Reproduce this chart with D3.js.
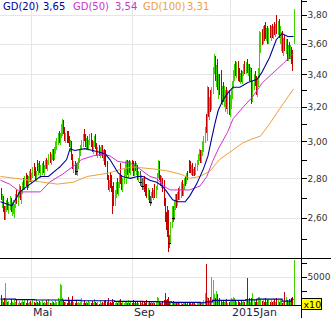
<!DOCTYPE html>
<html>
<head>
<meta charset="utf-8">
<style>
    body { margin: 0; background: #fff; }
    svg { display: block; font-family: "DejaVu Sans", Verdana, sans-serif; }
</style>
</head>
<body>
<script src="https://d3js.org/d3.v7.min.js"></script>
<div id="chart"></div>
<script>
const width = 331
const height = 318

// daily candles, oldest first (one per trading day)
const open = [
    2.74, 2.67, 2.69, 2.64, 2.61, 2.65, 2.67, 2.64, 2.66, 2.68,
    2.64, 2.63, 2.63, 2.66, 2.71, 2.69, 2.72, 2.75, 2.70, 2.73,
    2.77, 2.75, 2.80, 2.78, 2.76, 2.80, 2.82, 2.79, 2.82, 2.85,
    2.83, 2.80, 2.89, 2.85, 2.87, 2.84, 2.84, 2.87, 2.84, 2.86,
    2.89, 2.86, 2.89, 2.92, 2.89, 2.92, 2.94, 2.91, 2.96, 2.98,
    3.01, 3.03, 3.00, 3.04, 3.08, 3.10, 3.06, 3.02, 3.03, 3.05,
    3.00, 2.98, 2.99, 2.91, 2.86, 2.87, 2.84, 2.84, 2.87, 2.90,
    2.94, 2.97, 3.00, 3.05, 3.01, 2.99, 3.00, 2.97, 3.00, 3.03,
    2.98, 2.95, 2.99, 3.02, 2.97, 2.94, 2.96, 2.93, 2.95, 2.96,
    2.92, 2.94, 2.93, 2.87, 2.80, 2.75, 2.79, 2.78, 2.74, 2.76,
    2.68, 2.72, 2.77, 2.73, 2.77, 2.84, 2.78, 2.75, 2.79, 2.84,
    2.80, 2.88, 2.84, 2.87, 2.85, 2.88, 2.86, 2.83, 2.87, 2.85,
    2.86, 2.80, 2.78, 2.78, 2.76, 2.76, 2.79, 2.74, 2.76, 2.71,
    2.73, 2.68, 2.68, 2.72, 2.71, 2.75, 2.71, 2.75, 2.82, 2.88,
    2.80, 2.78, 2.79, 2.78, 2.67, 2.60, 2.60, 2.55, 2.48, 2.49,
    2.57, 2.60, 2.60, 2.68, 2.70, 2.67, 2.72, 2.71, 2.72, 2.77,
    2.73, 2.76, 2.79, 2.78, 2.82, 2.86, 2.88, 2.84, 2.86, 2.82,
    2.84, 2.83, 2.87, 2.89, 2.92, 2.94, 2.90, 2.94, 2.99, 3.02,
    3.14, 3.06, 3.30, 3.16, 3.24, 3.20, 3.30, 3.43, 3.50, 3.38,
    3.44, 3.33, 3.37, 3.38, 3.24, 3.30, 3.25, 3.22, 3.28, 3.22,
    3.28, 3.18, 3.25, 3.29, 3.34, 3.41, 3.45, 3.42, 3.46, 3.43,
    3.37, 3.40, 3.36, 3.41, 3.45, 3.42, 3.47, 3.43, 3.45, 3.38,
    3.43, 3.26, 3.34, 3.38, 3.35, 3.29, 3.35, 3.42, 3.62, 3.65,
    3.62, 3.70, 3.72, 3.65, 3.69, 3.62, 3.69, 3.67, 3.70, 3.66,
    3.71, 3.68, 3.79, 3.69, 3.74, 3.66, 3.58, 3.66, 3.56, 3.62,
    3.57, 3.61, 3.51, 3.57, 3.53, 3.56, 3.54, 3.62
]
const high = [
    2.75, 2.72, 2.71, 2.66, 2.66, 2.69, 2.70, 2.68, 2.71, 2.70,
    2.68, 2.69, 2.67, 2.72, 2.74, 2.73, 2.77, 2.76, 2.74, 2.78,
    2.80, 2.81, 2.83, 2.82, 2.81, 2.84, 2.85, 2.83, 2.86, 2.88,
    2.86, 2.84, 2.90, 2.88, 2.89, 2.87, 2.88, 2.89, 2.87, 2.90,
    2.91, 2.90, 2.93, 2.94, 2.93, 2.96, 2.96, 2.97, 3.00, 3.02,
    3.05, 3.06, 3.05, 3.10, 3.13, 3.12, 3.08, 3.05, 3.06, 3.06,
    3.03, 3.01, 3.00, 2.93, 2.89, 2.89, 2.88, 2.88, 2.91, 2.95,
    2.98, 3.01, 3.04, 3.07, 3.04, 3.02, 3.03, 3.01, 3.04, 3.05,
    3.01, 3.00, 3.03, 3.04, 2.99, 2.97, 2.98, 2.97, 2.98, 2.98,
    2.95, 2.96, 2.95, 2.89, 2.82, 2.79, 2.83, 2.82, 2.76, 2.78,
    2.74, 2.78, 2.80, 2.78, 2.82, 2.88, 2.82, 2.80, 2.85, 2.89,
    2.90, 2.90, 2.89, 2.90, 2.89, 2.90, 2.89, 2.88, 2.89, 2.88,
    2.87, 2.84, 2.84, 2.82, 2.80, 2.80, 2.81, 2.77, 2.77, 2.75,
    2.74, 2.71, 2.73, 2.75, 2.74, 2.77, 2.76, 2.83, 2.90, 2.89,
    2.82, 2.81, 2.80, 2.79, 2.70, 2.63, 2.66, 2.64, 2.52, 2.58,
    2.66, 2.66, 2.69, 2.72, 2.72, 2.73, 2.75, 2.76, 2.78, 2.79,
    2.77, 2.80, 2.81, 2.83, 2.84, 2.90, 2.89, 2.87, 2.88, 2.85,
    2.86, 2.88, 2.90, 2.93, 2.96, 2.95, 2.95, 3.00, 3.03, 3.08,
    3.16, 3.33, 3.32, 3.26, 3.30, 3.32, 3.45, 3.53, 3.52, 3.46,
    3.50, 3.40, 3.40, 3.43, 3.33, 3.35, 3.33, 3.30, 3.32, 3.30,
    3.30, 3.27, 3.31, 3.36, 3.43, 3.47, 3.49, 3.48, 3.49, 3.44,
    3.41, 3.43, 3.42, 3.47, 3.49, 3.48, 3.50, 3.47, 3.47, 3.45,
    3.44, 3.36, 3.40, 3.42, 3.39, 3.37, 3.44, 3.69, 3.68, 3.70,
    3.72, 3.73, 3.75, 3.71, 3.72, 3.71, 3.73, 3.72, 3.74, 3.72,
    3.75, 3.74, 3.80, 3.76, 3.77, 3.72, 3.68, 3.69, 3.64, 3.66,
    3.63, 3.63, 3.59, 3.61, 3.59, 3.58, 3.56, 3.84
]
const low = [
    2.69, 2.65, 2.63, 2.59, 2.59, 2.63, 2.64, 2.62, 2.64, 2.63,
    2.61, 2.62, 2.60, 2.65, 2.67, 2.66, 2.70, 2.69, 2.67, 2.72,
    2.74, 2.74, 2.76, 2.74, 2.75, 2.78, 2.78, 2.77, 2.80, 2.81,
    2.79, 2.78, 2.84, 2.82, 2.83, 2.80, 2.82, 2.83, 2.81, 2.85,
    2.85, 2.84, 2.87, 2.88, 2.87, 2.90, 2.89, 2.90, 2.93, 2.95,
    2.98, 2.99, 2.98, 3.02, 3.03, 3.04, 3.00, 2.99, 2.99, 2.99,
    2.97, 2.94, 2.90, 2.85, 2.83, 2.82, 2.82, 2.81, 2.85, 2.88,
    2.92, 2.95, 2.97, 3.00, 2.97, 2.95, 2.96, 2.95, 2.98, 2.97,
    2.94, 2.93, 2.97, 2.96, 2.92, 2.91, 2.92, 2.91, 2.92, 2.91,
    2.89, 2.87, 2.86, 2.79, 2.74, 2.73, 2.75, 2.73, 2.62, 2.66,
    2.66, 2.70, 2.72, 2.71, 2.75, 2.77, 2.74, 2.73, 2.77, 2.81,
    2.77, 2.82, 2.80, 2.83, 2.82, 2.84, 2.81, 2.81, 2.84, 2.82,
    2.79, 2.78, 2.76, 2.76, 2.74, 2.74, 2.73, 2.71, 2.70, 2.69,
    2.68, 2.66, 2.67, 2.70, 2.69, 2.70, 2.70, 2.74, 2.80, 2.79,
    2.76, 2.75, 2.73, 2.66, 2.58, 2.54, 2.51, 2.44, 2.46, 2.48,
    2.55, 2.58, 2.59, 2.64, 2.65, 2.66, 2.69, 2.69, 2.70, 2.71,
    2.71, 2.74, 2.76, 2.77, 2.79, 2.83, 2.83, 2.82, 2.81, 2.81,
    2.81, 2.82, 2.84, 2.87, 2.89, 2.88, 2.88, 2.92, 2.94, 2.99,
    3.05, 3.00, 3.14, 3.12, 3.17, 3.18, 3.28, 3.40, 3.36, 3.32,
    3.30, 3.25, 3.27, 3.22, 3.21, 3.23, 3.20, 3.17, 3.19, 3.16,
    3.15, 3.14, 3.19, 3.25, 3.31, 3.36, 3.39, 3.38, 3.36, 3.35,
    3.34, 3.35, 3.34, 3.39, 3.40, 3.40, 3.41, 3.39, 3.36, 3.35,
    3.22, 3.23, 3.30, 3.33, 3.27, 3.26, 3.32, 3.38, 3.54, 3.59,
    3.60, 3.62, 3.63, 3.62, 3.60, 3.60, 3.64, 3.62, 3.64, 3.63,
    3.66, 3.65, 3.67, 3.66, 3.64, 3.60, 3.55, 3.54, 3.52, 3.55,
    3.53, 3.49, 3.49, 3.50, 3.50, 3.47, 3.42, 3.60
]
const close = [
    2.70, 2.70, 2.64, 2.61, 2.65, 2.67, 2.65, 2.66, 2.69, 2.64,
    2.66, 2.66, 2.66, 2.71, 2.69, 2.72, 2.75, 2.70, 2.73, 2.77,
    2.75, 2.80, 2.78, 2.76, 2.80, 2.82, 2.79, 2.82, 2.85, 2.83,
    2.80, 2.83, 2.85, 2.87, 2.84, 2.86, 2.87, 2.84, 2.86, 2.89,
    2.86, 2.89, 2.92, 2.89, 2.92, 2.94, 2.91, 2.96, 2.98, 3.01,
    3.03, 3.00, 3.04, 3.08, 3.10, 3.06, 3.02, 3.03, 3.00, 3.00,
    2.98, 2.99, 2.91, 2.86, 2.87, 2.84, 2.84, 2.87, 2.90, 2.94,
    2.97, 3.00, 3.02, 3.01, 2.99, 3.00, 2.97, 3.00, 3.03, 2.98,
    2.95, 2.99, 3.02, 2.97, 2.94, 2.96, 2.93, 2.95, 2.96, 2.92,
    2.94, 2.88, 2.87, 2.80, 2.75, 2.77, 2.76, 2.74, 2.64, 2.68,
    2.72, 2.77, 2.73, 2.77, 2.80, 2.78, 2.75, 2.79, 2.84, 2.87,
    2.88, 2.84, 2.87, 2.85, 2.88, 2.86, 2.83, 2.87, 2.85, 2.86,
    2.80, 2.83, 2.78, 2.80, 2.76, 2.79, 2.74, 2.72, 2.71, 2.73,
    2.69, 2.68, 2.72, 2.71, 2.73, 2.71, 2.75, 2.82, 2.88, 2.80,
    2.78, 2.79, 2.74, 2.67, 2.60, 2.56, 2.52, 2.48, 2.48, 2.57,
    2.64, 2.60, 2.68, 2.70, 2.67, 2.72, 2.71, 2.75, 2.77, 2.73,
    2.76, 2.79, 2.78, 2.82, 2.80, 2.84, 2.84, 2.86, 2.82, 2.84,
    2.83, 2.87, 2.89, 2.92, 2.94, 2.90, 2.94, 2.99, 3.02, 3.06,
    3.06, 3.30, 3.16, 3.24, 3.20, 3.30, 3.43, 3.50, 3.38, 3.44,
    3.33, 3.37, 3.29, 3.24, 3.30, 3.25, 3.31, 3.28, 3.22, 3.28,
    3.18, 3.25, 3.29, 3.34, 3.41, 3.45, 3.42, 3.46, 3.38, 3.37,
    3.40, 3.36, 3.41, 3.45, 3.42, 3.47, 3.43, 3.45, 3.38, 3.43,
    3.26, 3.34, 3.38, 3.35, 3.29, 3.35, 3.42, 3.62, 3.65, 3.62,
    3.70, 3.64, 3.65, 3.69, 3.62, 3.69, 3.67, 3.70, 3.66, 3.71,
    3.68, 3.73, 3.69, 3.74, 3.66, 3.70, 3.66, 3.56, 3.62, 3.57,
    3.61, 3.51, 3.57, 3.53, 3.56, 3.49, 3.46, 3.82
]
// volume in units of 10 shares
const volume = [
    1700, 800, 600, 1200, 3900, 900, 500, 700, 400, 1000,
    600, 300, 800, 500, 1100, 400, 700, 300, 600, 900,
    500, 800, 300, 1000, 400, 600, 700, 300, 900, 500,
    400, 1100, 600, 300, 700, 500, 900, 400, 600, 300,
    800, 500, 1000, 400, 300, 700, 600, 400, 900, 500,
    1200, 700, 3700, 3600, 1300, 900, 500, 600, 400, 1500,
    700, 400, 800, 1600, 500, 300, 700, 400, 600, 300,
    500, 1200, 400, 800, 300, 600, 400, 900, 500, 300,
    700, 400, 1000, 500, 300, 600, 200, 800, 400, 500,
    300, 700, 900, 600, 1300, 400, 500, 300, 1100, 600,
    400, 700, 300, 500, 800, 1000, 400, 600, 300, 700,
    500, 300, 900, 400, 600, 300, 800, 400, 500, 300,
    600, 400, 700, 300, 500, 200, 600, 400, 800, 300,
    500, 300, 600, 400, 700, 300, 500, 1400, 1200, 600,
    400, 300, 700, 900, 2100, 800, 1000, 1400, 600, 500,
    300, 700, 400, 500, 300, 600, 400, 300, 500, 200,
    400, 300, 500, 200, 600, 300, 400, 200, 500, 300,
    400, 200, 300, 500, 300, 600, 400, 500, 900, 2100,
    7200, 1500, 1200, 800, 1500, 4900, 4500, 2000, 1200, 2500,
    2000, 900, 1200, 700, 600, 900, 500, 700, 1100, 400,
    600, 800, 1300, 1000, 1500, 1200, 700, 500, 900, 600,
    400, 700, 500, 900, 600, 1000, 4800, 700, 1200, 500,
    1300, 2100, 800, 600, 900, 500, 1500, 1400, 1100, 700,
    900, 600, 1300, 500, 800, 1100, 600, 900, 500, 700,
    1000, 600, 1200, 800, 500, 900, 700, 400, 600, 2300,
    1400, 800, 600, 1000, 700, 1200, 1500, 7900
]

// moving averages as [day index, value]
const gd20 = [[0, 2.68], [10, 2.66], [17, 2.73], [26, 2.77], [35, 2.81], [42, 2.81], [50, 2.85],
    [52, 2.86], [58, 2.90], [61, 2.96], [65, 2.95], [74, 2.96], [81, 2.95], [87, 2.94], [92, 2.93],
    [96, 2.90], [100, 2.86], [103, 2.83], [107, 2.81], [114, 2.80], [120, 2.81], [125, 2.81],
    [131, 2.79], [137, 2.78], [142, 2.76], [146, 2.73], [151, 2.69], [156, 2.68], [162, 2.68],
    [166, 2.71], [172, 2.77], [178, 2.85], [182, 2.92], [185, 3.01], [188, 3.10], [191, 3.18],
    [195, 3.24], [200, 3.29], [204, 3.32], [210, 3.32], [217, 3.35], [225, 3.37], [229, 3.41],
    [236, 3.51], [242, 3.63], [247, 3.67], [252, 3.65], [257, 3.65]]
const gd50 = [[0, 2.79], [8, 2.77], [17, 2.73], [26, 2.73], [35, 2.73], [43, 2.78], [54, 2.82],
    [63, 2.86], [71, 2.90], [81, 2.92], [90, 2.93], [96, 2.92], [103, 2.89], [114, 2.88],
    [122, 2.85], [131, 2.81], [137, 2.80], [143, 2.76], [149, 2.74], [159, 2.74], [166, 2.74],
    [175, 2.76], [181, 2.81], [186, 2.89], [192, 2.97], [199, 3.05], [204, 3.13], [213, 3.20],
    [221, 3.26], [230, 3.35], [239, 3.41], [248, 3.47], [257, 3.54]]
const gd100 = [[0, 2.81], [13, 2.80], [26, 2.79], [37, 2.78], [50, 2.77], [64, 2.78], [76, 2.81],
    [87, 2.82], [96, 2.83], [107, 2.85], [116, 2.86], [134, 2.85], [146, 2.84], [159, 2.82],
    [166, 2.80], [175, 2.81], [184, 2.84], [192, 2.90], [201, 2.94], [212, 2.99], [219, 3.01],
    [228, 3.03], [236, 3.10], [245, 3.19], [257, 3.31]]
const volAvg = [[0, 1050], [13, 950], [30, 880], [55, 800], [70, 750], [100, 650], [125, 600],
    [140, 550], [150, 450], [175, 400], [180, 550], [186, 800], [215, 900], [225, 1050],
    [247, 700], [255, 1000], [257, 1000]]

const monthTicks = [27, 115, 201]
const monthLabels = ["Mai", "Sep", "2015Jan"]
const priceTicks = [2.5, 2.6, 2.7, 2.8, 2.9, 3.0, 3.1, 3.2, 3.3, 3.4, 3.5, 3.6, 3.7, 3.8, 3.9]
const priceLabels = [2.6, 2.8, 3.0, 3.2, 3.4, 3.6, 3.8]
const volTicks = [2500, 5000, 7500]
const volLabels = [5000]

const upColor = "#3fd400"
const downColor = "#c40000"
const lineColors = { gd20: "#000099", gd50: "#cc33cc", gd100: "#eea038" }

const de = d3.formatLocale({ decimal: ",", thousands: ".", grouping: [3], currency: ["", " €"] })
const fmt2 = de.format(".2f")

const axisX = 301.5
const priceBottom = 258.5
const volBottom = 305

const x = d3.scaleLinear().domain([0, close.length - 1]).range([0.5, 293.5])
const y = d3.scaleLog().domain([2.6, 3.8]).range([218, 15])
const yv = d3.scaleLinear().domain([0, 5000]).range([volBottom, 276.7])
const px = i => Math.round(x(i)) + 0.5

const svg = d3.select("#chart").append("svg")
    .attr("width", width).attr("height", height)

svg.append("clipPath").attr("id", "priceClip")
    .append("rect").attr("x", 0).attr("y", 0).attr("width", 301).attr("height", priceBottom)

// grid
const grid = svg.append("g").attr("stroke", "#e6e6e6").attr("shape-rendering", "crispEdges")
grid.selectAll(".hgrid").data(priceLabels).enter().append("line")
    .attr("x1", 0).attr("x2", 301)
    .attr("y1", d => Math.round(y(d)) + 0.5).attr("y2", d => Math.round(y(d)) + 0.5)
grid.selectAll(".vgrid").data(monthTicks).enter().append("line")
    .attr("x1", d => px(d)).attr("x2", d => px(d))
    .attr("y1", 0).attr("y2", volBottom)
grid.append("line")
    .attr("x1", 0).attr("x2", 301)
    .attr("y1", Math.round(yv(5000)) + 0.5).attr("y2", Math.round(yv(5000)) + 0.5)

const isUp = i => close[i] > open[i]
const colorOf = i => close[i] === open[i] ? "#000" : (isUp(i) ? upColor : downColor)
const days = d3.range(close.length)

// candles
const candles = svg.append("g").attr("clip-path", "url(#priceClip)")
    .attr("shape-rendering", "crispEdges")
candles.selectAll("line.wick").data(days).enter().append("line")
    .attr("class", "wick")
    .attr("x1", px).attr("x2", px)
    .attr("y1", i => y(high[i])).attr("y2", i => y(low[i]))
    .attr("stroke", i => close[i] === open[i] ? "#555" : colorOf(i))
    .attr("stroke-width", 1)
candles.selectAll("line.doji").data(days.filter(i => close[i] === open[i])).enter().append("line")
    .attr("class", "doji")
    .attr("x1", i => px(i) - 1.5).attr("x2", i => px(i) + 1.5)
    .attr("y1", i => Math.round(y(close[i])) + 0.5).attr("y2", i => Math.round(y(close[i])) + 0.5)
    .attr("stroke", "#000")

// moving averages
const maLine = d3.line().x(d => x(d[0])).y(d => y(d[1]))
const maGroup = svg.append("g").attr("clip-path", "url(#priceClip)").attr("fill", "none")
maGroup.append("path").attr("d", maLine(gd100)).attr("stroke", lineColors.gd100).attr("stroke-width", 1)
maGroup.append("path").attr("d", maLine(gd50)).attr("stroke", lineColors.gd50).attr("stroke-width", 1)
maGroup.append("path").attr("d", maLine(gd20)).attr("stroke", lineColors.gd20).attr("stroke-width", 1.1)

// volume
svg.append("g").attr("shape-rendering", "crispEdges")
    .selectAll("line").data(days).enter().append("line")
    .attr("x1", px).attr("x2", px)
    .attr("y1", volBottom).attr("y2", i => Math.max(priceBottom, yv(volume[i])))
    .attr("stroke", i => isUp(i) ? upColor : downColor)

svg.append("path")
    .attr("d", d3.line().x(d => x(d[0])).y(d => yv(d[1])).curve(d3.curveStepAfter)(volAvg))
    .attr("fill", "none").attr("stroke", "#000099").attr("stroke-width", 1.2)

// frame lines
const frame = svg.append("g").attr("stroke", "#000").attr("shape-rendering", "crispEdges")
frame.append("line").attr("x1", 0).attr("x2", width).attr("y1", priceBottom).attr("y2", priceBottom)
frame.append("line").attr("x1", 0).attr("x2", axisX).attr("y1", volBottom + 0.5).attr("y2", volBottom + 0.5)
frame.append("line").attr("x1", axisX).attr("x2", axisX).attr("y1", 0).attr("y2", height)

// right price axis
const priceAxis = svg.append("g")
priceAxis.selectAll("line").data(priceTicks.filter(d => y(d) > 0 && y(d) < priceBottom)).enter().append("line")
    .attr("x1", axisX).attr("x2", axisX + 5)
    .attr("y1", d => Math.round(y(d)) + 0.5).attr("y2", d => Math.round(y(d)) + 0.5)
    .attr("stroke", "#000").attr("shape-rendering", "crispEdges")
priceAxis.selectAll("text").data(priceLabels).enter().append("text")
    .attr("x", 307.5).attr("y", d => y(d)).attr("dy", "0.35em")
    .attr("font-size", 9).attr("fill", "#333")
    .text(d => fmt2(d))

// right volume axis
const volAxis = svg.append("g")
volAxis.selectAll("line").data(volTicks).enter().append("line")
    .attr("x1", axisX).attr("x2", axisX + 5)
    .attr("y1", d => Math.round(yv(d)) + 0.5).attr("y2", d => Math.round(yv(d)) + 0.5)
    .attr("stroke", "#000").attr("shape-rendering", "crispEdges")
volAxis.selectAll("text").data(volLabels).enter().append("text")
    .attr("x", 307.5).attr("y", d => yv(d)).attr("dy", "0.35em")
    .attr("font-size", 9).attr("fill", "#333")
    .text(d => d)

// x10 badge
svg.append("rect").attr("x", 301.5).attr("y", 298.5).attr("width", 20).attr("height", 11)
    .attr("fill", "#ffff00").attr("stroke", "#000").attr("shape-rendering", "crispEdges")
svg.append("text").attr("x", 303.5).attr("y", 307.5).attr("font-size", 9.5).attr("fill", "#000").text("x10")

// month labels
svg.selectAll(".month").data(monthTicks).enter().append("text")
    .attr("class", "month")
    .attr("x", d => px(d) + 1.5).attr("y", 316)
    .attr("font-size", 11).attr("fill", "#1e1e46")
    .text((d, i) => monthLabels[i])

// legend
const legend = [
    { name: "GD(20)", data: gd20, color: lineColors.gd20, x: 3, vx: 43 },
    { name: "GD(50)", data: gd50, color: lineColors.gd50, x: 73, vx: 115 },
    { name: "GD(100)", data: gd100, color: lineColors.gd100, x: 143, vx: 187 }
]
const lg = svg.append("g").attr("font-size", 10)
lg.selectAll(".lname").data(legend).enter().append("text")
    .attr("x", d => d.x).attr("y", 10).attr("fill", d => d.color).text(d => d.name)
lg.selectAll(".lval").data(legend).enter().append("text")
    .attr("x", d => d.vx).attr("y", 10).attr("fill", d => d.color)
    .text(d => fmt2(d.data[d.data.length - 1][1]))
</script>
</body>
</html>
